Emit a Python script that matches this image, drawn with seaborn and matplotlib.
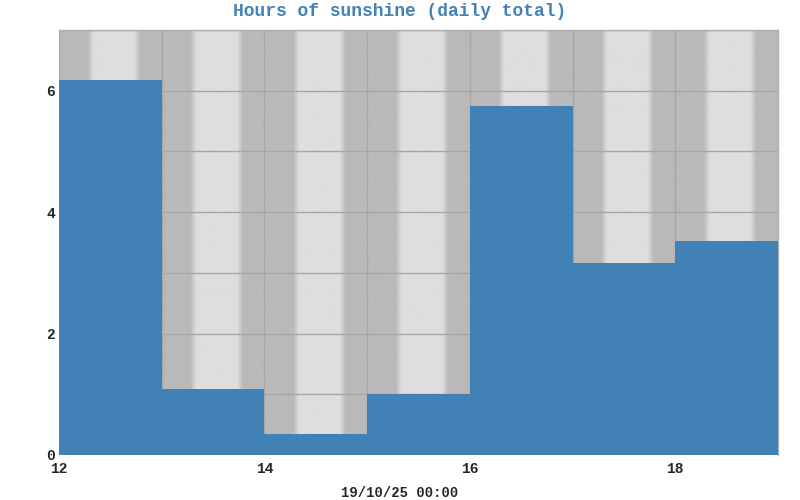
import numpy as np
import pandas as pd
import matplotlib.pyplot as plt
import matplotlib.colors as mcolors
import seaborn as sns

# Daily sunshine totals (hours), one per day of the month
days = [12, 13, 14, 15, 16, 17, 18]
sunshine_hours = [6.17, 1.09, 0.35, 1.0, 5.75, 3.17, 3.52]
x_ticks = [12, 14, 16, 18]
y_ticks = [0, 2, 4, 6]
title = "Hours of sunshine (daily total)"
x_label = "19/10/25 00:00"

# approximate daylight window (hour of day) for the background shading
sunrise_hour = 7.4
sunset_hour = 18.3

bar_color = "#4181b5"
night_grey = "#b9b9b9"
day_grey = "#dedede"
grid_grey = "#a6a6a6"
mono = ["Liberation Mono", "DejaVu Sans Mono"]

sns.set_style("white")
plt.rcParams["font.family"] = mono

df = pd.DataFrame({"day": days, "hours": sunshine_hours})

fig = plt.figure(figsize=(8, 5), dpi=100)
ax = fig.add_axes([59 / 800, 45 / 500, 719 / 800, 425 / 500])

x_min, x_max = days[0], days[-1] + 1
y_max = 7

# day/night background with soft edges
t = np.linspace(x_min, x_max, 3000)
hour = (t - np.floor(t)) * 24
ramp = 1.3
light = np.clip((hour - sunrise_hour) / ramp + 0.5, 0, 1) * np.clip((sunset_hour - hour) / ramp + 0.5, 0, 1)
c0 = np.array(mcolors.to_rgb(night_grey))
c1 = np.array(mcolors.to_rgb(day_grey))
img = c0[None, None, :] + (c1 - c0)[None, None, :] * light[None, :, None]
ax.imshow(img, extent=[x_min, x_max, 0, y_max], aspect="auto", zorder=0, interpolation="bilinear")

sns.histplot(data=df, x="day", weights="hours", bins=len(days), binrange=(x_min, x_max),
             element="bars", fill=True, color=bar_color, alpha=1, linewidth=0, ax=ax)
for p in ax.patches:
    p.set_zorder(3)

ax.set_xlim(x_min, x_max)
ax.set_ylim(0, y_max)
ax.set_xticks(np.arange(x_min, x_max + 1), minor=True)
ax.set_yticks(np.arange(0, y_max + 1), minor=True)
ax.set_xticks(x_ticks)
ax.set_yticks(y_ticks)
ax.grid(which="both", color=grid_grey, linewidth=1, zorder=1)

ax.tick_params(axis="x", which="both", length=0, labelsize=10.5, pad=5)
ax.tick_params(axis="y", which="both", length=0, labelsize=10.5, pad=3)
for lab in ax.get_xticklabels() + ax.get_yticklabels():
    lab.set_fontweight("bold")
ax.set_ylabel("")
ax.set_xlabel(x_label, fontsize=10, fontweight="bold")
# label sits at the figure centre, not the axes centre
ax.xaxis.set_label_coords((400 - 59) / 719, -0.072)
for s in ax.spines.values():
    s.set_color("#b0b0b0")
    s.set_linewidth(1)
ax.spines["bottom"].set_visible(False)
ax.spines["left"].set_visible(False)

fig.suptitle(title, y=0.995, fontsize=13, fontweight="bold", color="#4682b4", family=mono)

fig.savefig("out.png", dpi=100)
